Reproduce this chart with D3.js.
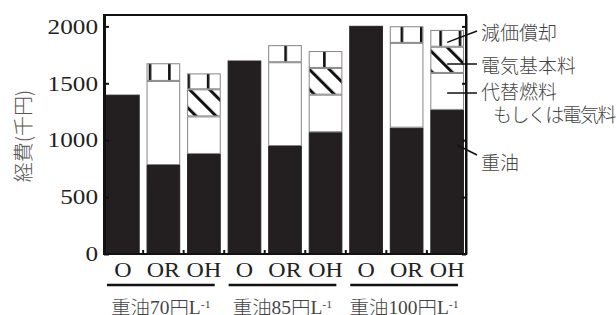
<!DOCTYPE html>
<meta charset="utf-8">
<script src="https://cdn.jsdelivr.net/npm/d3@7"></script>
<style>
body { margin: 0; background: #fff; }
</style>
<body>
<script>
// values in 千円, bar order: 70 O/OR/OH, 85 O/OR/OH, 100 O/OR/OH
var groups = ["重油70円", "重油85円", "重油100円"];
var systems = ["O", "OR", "OH"];
var heavyOil = [1400, 782, 879, 1700, 949, 1070, 2005, 1110, 1266];
var altFuel  = [0, 739, 330, 0, 736, 330, 0, 745, 325];
var elecBase = [0, 0, 238, 0, 0, 235, 0, 0, 230];
var deprec   = [0, 155, 140, 0, 150, 148, 0, 146, 148];
var yTicks = [0, 500, 1000, 1500, 2000];
var legendDep = "減価償却", legendElec = "電気基本料",
    legendAlt = ["代替燃料", "もしくは電気料"], legendOil = "重油";

var W = 616, H = 315;
var plot = {left: 104, right: 466, top: 15, bottom: 254};

var svg = d3.select("body").append("svg")
    .attr("width", W)
    .attr("height", H);

var defs = svg.append("defs");

// vertical bars for depreciation
var pv = defs.append("pattern")
    .attr("id", "vbar")
    .attr("patternUnits", "userSpaceOnUse")
    .attr("x", 148.7).attr("y", 0)
    .attr("width", 19.375).attr("height", 40);
pv.append("rect").attr("width", 19.375).attr("height", 40).attr("fill", "#fff");
pv.append("rect").attr("x", 0).attr("width", 2.6).attr("height", 40).attr("fill", "#111");

// diagonal hatch for electricity base charge
var ph = defs.append("pattern")
    .attr("id", "hatch")
    .attr("patternUnits", "userSpaceOnUse")
    .attr("x", -1.5).attr("y", 0)
    .attr("width", 14.14).attr("height", 14.14)
    .attr("patternTransform", "rotate(-45)");
ph.append("rect").attr("width", 14.14).attr("height", 14.14).attr("fill", "#fff");
ph.append("rect").attr("x", 0).attr("width", 3).attr("height", 14.14).attr("fill", "#111");

var keys = [];
groups.forEach(function(g) {
  systems.forEach(function(s) { keys.push(g + "|" + s); });
});

var x = d3.scaleBand()
    .domain(keys)
    .range([plot.left, plot.right])
    .paddingInner(0.17)
    .paddingOuter(0.05);

var y = d3.scaleLinear()
    .domain([0, 2100])
    .range([plot.bottom, plot.top]);

var bars = keys.map(function(k, i) {
  var y0 = 0, segs = [];
  [["oil", heavyOil[i]], ["alt", altFuel[i]], ["elec", elecBase[i]], ["dep", deprec[i]]]
    .forEach(function(p) {
      if (p[1] > 0) {
        segs.push({name: p[0], y0: y0, y1: y0 + p[1], key: k});
        y0 += p[1];
      }
    });
  return {key: k, segs: segs, total: y0};
});

var fills = {oil: "#231f20", alt: "#fff", elec: "url(#hatch)", dep: "url(#vbar)"};

svg.selectAll(".bar")
    .data(bars)
    .enter().append("g")
    .attr("class", "bar")
  .selectAll("rect")
    .data(function(d) { return d.segs; })
    .enter().append("rect")
    .attr("x", function(d) { return x(d.key) + 0.5; })
    .attr("y", function(d) { return y(d.y1) + 0.5; })
    .attr("width", x.bandwidth() - 1)
    .attr("height", function(d) { return y(d.y0) - y(d.y1) - 1; })
    .attr("fill", function(d) { return fills[d.name]; })
    .attr("stroke", function(d) { return d.name == "oil" ? "#231f20" : "#858585"; })
    .attr("stroke-width", 1);

// frame and axes
svg.append("rect")
    .attr("x", plot.left).attr("y", plot.top)
    .attr("width", plot.right - plot.left)
    .attr("height", plot.bottom - plot.top)
    .attr("fill", "none")
    .attr("stroke", "#111")
    .attr("stroke-width", 2);

var yAxis = svg.append("g")
    .attr("transform", "translate(" + plot.left + ",0)")
    .call(d3.axisLeft(y).tickValues(yTicks).tickFormat(d3.format("d"))
      .tickSizeInner(-5).tickSizeOuter(0).tickPadding(5));
yAxis.select(".domain").attr("stroke", "#111").attr("stroke-width", 3);
yAxis.selectAll(".tick line").attr("stroke", "#111").attr("stroke-width", 2);
yAxis.selectAll(".tick text")
    .attr("transform", "scale(1.2,1)")
    .style("font-family", "'Liberation Serif', serif")
    .style("font-size", "21px")
    .attr("fill", "#222");

var yAxisR = svg.append("g")
    .attr("transform", "translate(" + plot.right + ",0)")
    .call(d3.axisRight(y).tickValues(yTicks).tickSizeInner(-4).tickSizeOuter(0).tickFormat(""));
yAxisR.select(".domain").attr("stroke", "#111").attr("stroke-width", 2);
yAxisR.selectAll(".tick line").attr("stroke", "#111").attr("stroke-width", 2);

// small inward ticks in the gaps between bars
var gap = x.step() * x.paddingInner();
svg.selectAll(".xtick")
    .data(keys.slice(1))
    .enter().append("line")
    .attr("class", "xtick")
    .attr("x1", function(d) { return x(d) - gap / 2; })
    .attr("x2", function(d) { return x(d) - gap / 2; })
    .attr("y1", plot.bottom)
    .attr("y2", plot.bottom - 4)
    .attr("stroke", "#111")
    .attr("stroke-width", 2);

// category labels
svg.selectAll(".cat")
    .data(keys)
    .enter().append("text")
    .attr("class", "cat")
    .attr("transform", function(d) {
      return "translate(" + (x(d) + x.bandwidth() / 2) + ",276.5) scale(1.2,1)";
    })
    .attr("text-anchor", "middle")
    .style("font-family", "'Liberation Serif', serif")
    .style("font-size", "20px")
    .attr("fill", "#222")
    .text(function(d) { return d.split("|")[1]; });

// group lines and labels
groups.forEach(function(g) {
  var x1 = x(g + "|O") + 1,
      x2 = x(g + "|OH") + x.bandwidth() - 6;
  svg.append("line")
      .attr("x1", x1).attr("x2", x2)
      .attr("y1", 285).attr("y2", 285)
      .attr("stroke", "#111")
      .attr("stroke-width", 2.5);
  var t = svg.append("text")
      .attr("transform", "translate(" + ((x1 + x2) / 2) + ",313.5) scale(1.08,1)")
      .attr("text-anchor", "middle")
      .style("font-family", "'Liberation Serif', 'Noto Sans CJK JP', serif")
      .style("font-weight", 300)
      .style("font-size", "18px")
      .attr("fill", "#444");
  t.append("tspan").text(g + "L");
  t.append("tspan").attr("dy", -6).style("font-size", "11px").text("-1");
});

// y title
svg.append("text")
    .attr("transform", "translate(22,136) rotate(-90)")
    .attr("text-anchor", "middle")
    .attr("dominant-baseline", "central")
    .style("font-family", "'Noto Sans CJK JP', sans-serif")
    .style("font-weight", 300)
    .style("font-size", "20px")
    .attr("fill", "#555")
    .text("経費(千円)");

// legend labels with leader lines to the last bar
var last = bars[bars.length - 1];
var cx = x(last.key) + x.bandwidth() / 2;
var depMid = y((last.segs[3].y0 + last.segs[3].y1) / 2);
var labels = [
  {text: legendDep, x: 481, y: 31, lx: cx, ly: depMid + 4, ey: 31},
  {text: legendElec, x: 481, y: 64, lx: cx, ly: 64, ey: 64},
  {text: legendAlt[0], x: 481, y: 90, lx: cx, ly: 93, ey: 93},
  {text: legendAlt[1], x: 493, y: 113},
  {text: legendOil, x: 481, y: 161, lx: cx + 10, ly: 145, ey: 155}
];

labels.forEach(function(d) {
  if (d.lx != null) {
    svg.append("line")
        .attr("x1", d.lx).attr("y1", d.ly)
        .attr("x2", 477).attr("y2", d.ey)
        .attr("stroke", "#111")
        .attr("stroke-width", 1.5);
  }
  svg.append("text")
      .attr("x", d.x).attr("y", d.y)
      .attr("dominant-baseline", "central")
      .style("font-family", "'Noto Sans CJK JP', sans-serif")
      .style("font-weight", 300)
      .style("font-size", "19px")
      .style("letter-spacing", d.text == legendAlt[1] ? "-1.6px" : "0px")
      .attr("fill", "#444")
      .text(d.text);
});
</script>
</body>
